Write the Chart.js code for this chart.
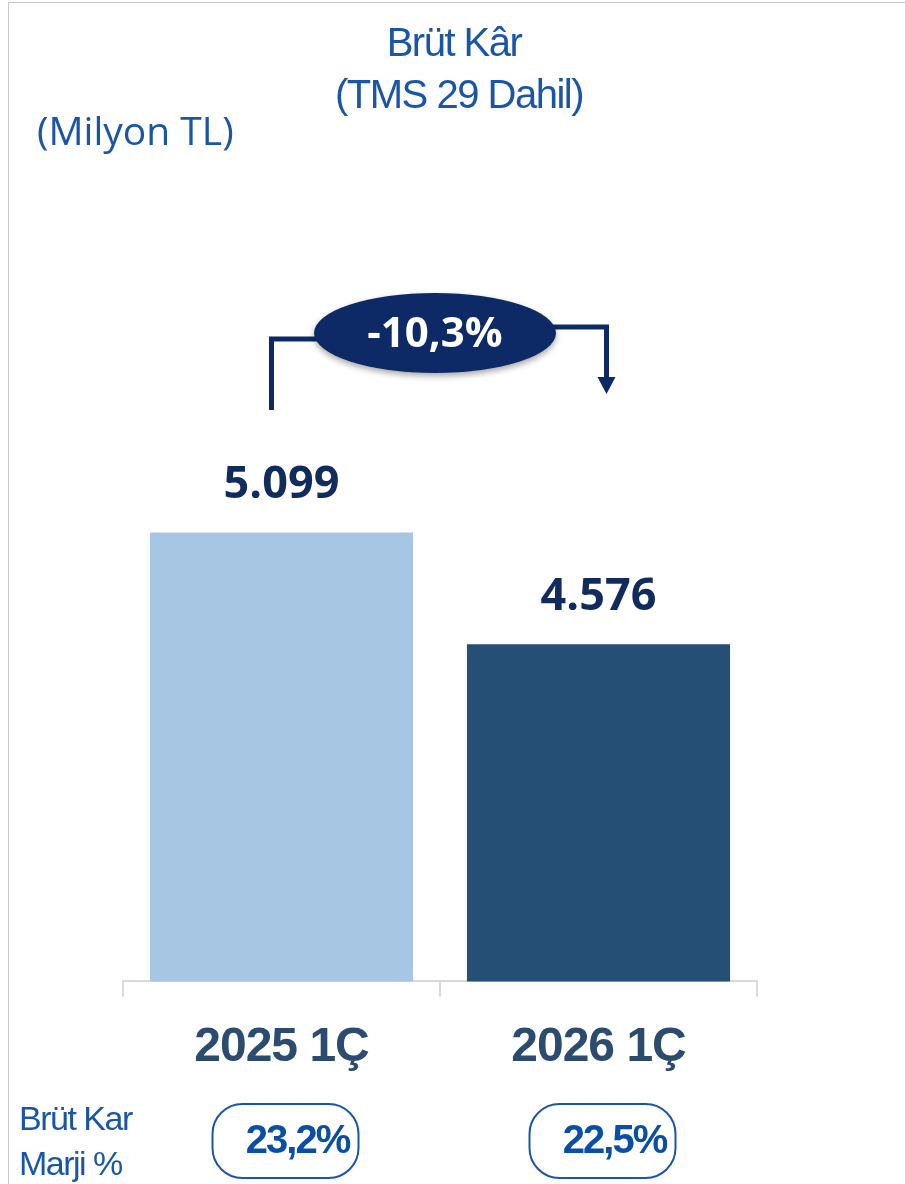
<!DOCTYPE html>
<html>
<head>
<meta charset="utf-8">
<script src="https://cdn.jsdelivr.net/npm/chart.js@4.4.1/dist/chart.umd.min.js"></script>
<style>
  html, body { margin: 0; padding: 0; background: #fff; }
  #wrap { position: relative; width: 905px; height: 1184px; }
  #frame { position: absolute; left: 8px; top: 2px; right: -2px; bottom: -2px; border-left: 1px solid #c8c8c8; border-top: 1px solid #c8c8c8; }
</style>
</head>
<body>
<div id="wrap">
  <div id="frame"></div>
  <canvas id="canvas" width="905" height="1184"></canvas>
</div>
<script>
// data
var categories = ["2025 1Ç", "2026 1Ç"];
var grossProfit = [5099, 4576];
var valueLabels = ["5.099", "4.576"];
var marginLabels = ["23,2%", "22,5%"];
var changeLabel = "-10,3%";
var barColors = ["#a7c6e3", "#254f75"];

var titleLines = ["Brüt Kâr", "(TMS 29 Dahil)"];
var unitLabel = "(Milyon TL)";
var marginTitle = ["Brüt Kar", "Marji %"];

var SANS = "'Liberation Sans', Arial, sans-serif";
var BLUE = "#1a56a8";
var NAVY = "#0d2a66";

// tighter letters for the axis labels (set outside any save so it sticks)
var tightText = {
  id: "tightText",
  beforeDraw: function(chart){ chart.ctx.letterSpacing = "-1px"; },
  afterDraw: function(chart){ chart.ctx.letterSpacing = "0px"; }
};

var extras = {
  id: "extras",
  afterDatasetsDraw: function(chart){
    var ctx = chart.ctx;
    var bars = chart.getDatasetMeta(0).data;
    ctx.save();

    // titles
    ctx.fillStyle = BLUE;
    ctx.textAlign = "center";
    ctx.textBaseline = "middle";
    ctx.letterSpacing = "-1.5px";
    ctx.font = "40px " + SANS;
    ctx.fillText(titleLines[0], 454, 45);
    ctx.fillText(titleLines[1], 459, 97);
    ctx.textAlign = "left";
    ctx.letterSpacing = "0px";
    ctx.font = "39px 'Open Sans'";
    ctx.fillText(unitLabel, 37, 134);

    // value labels above bars
    ctx.textAlign = "center";
    ctx.fillStyle = "#102b5c";
    ctx.font = "bold 45px 'Open Sans'";
    for (var i = 0; i < bars.length; i++) {
      ctx.fillText(valueLabels[i], bars[i].x, bars[i].y - 47);
    }

    // change arrow
    var x1 = bars[0].x - 10, x2 = bars[1].x + 8;
    var cx = (x1 + x2) / 2 - 4, cy = 333;
    ctx.strokeStyle = NAVY;
    ctx.lineWidth = 5;
    ctx.beginPath();
    ctx.moveTo(x1, 410);
    ctx.lineTo(x1, 339);
    ctx.lineTo(cx - 100, 339);
    ctx.stroke();
    ctx.beginPath();
    ctx.moveTo(cx + 100, 327);
    ctx.lineTo(x2, 327);
    ctx.lineTo(x2, 380);
    ctx.stroke();
    ctx.fillStyle = NAVY;
    ctx.beginPath();
    ctx.moveTo(x2 - 9, 377);
    ctx.lineTo(x2 + 9, 377);
    ctx.lineTo(x2, 394);
    ctx.closePath();
    ctx.fill();

    ctx.save();
    ctx.shadowColor = "rgba(0,0,0,0.35)";
    ctx.shadowBlur = 6;
    ctx.shadowOffsetY = 3;
    ctx.beginPath();
    ctx.ellipse(cx, cy, 121, 40, 0, 0, Math.PI * 2);
    ctx.fill();
    ctx.restore();
    ctx.fillStyle = "#ffffff";
    ctx.font = "bold 42px 'Open Sans'";
    ctx.fillText(changeLabel, cx, cy + 2);

    // margin row
    ctx.fillStyle = BLUE;
    ctx.textAlign = "left";
    ctx.letterSpacing = "-1.5px";
    ctx.font = "34px " + SANS;
    ctx.fillText(marginTitle[0], 19, 1121);
    ctx.fillText(marginTitle[1], 19, 1166);

    ctx.strokeStyle = BLUE;
    ctx.lineWidth = 2;
    for (var j = 0; j < bars.length; j++) {
      var px = bars[j].x + 4, py = 1141, w = 146, h = 74;
      ctx.beginPath();
      ctx.roundRect(px - w / 2, py - h / 2, w, h, 30);
      ctx.stroke();
      ctx.fillStyle = "#0a4fa3";
      ctx.textAlign = "center";
      ctx.letterSpacing = "-2px";
      ctx.font = "bold 40px " + SANS;
      ctx.fillText(marginLabels[j], px + 12, py + 1);
    }
    ctx.restore();
  }
};

var ctx = document.getElementById("canvas").getContext("2d");
new Chart(ctx, {
  type: "bar",
  data: {
    labels: categories,
    datasets: [{
      data: grossProfit,
      backgroundColor: barColors,
      borderWidth: 0,
      barPercentage: 0.83,
      categoryPercentage: 1
    }]
  },
  options: {
    responsive: false,
    animation: false,
    layout: { padding: { left: 123, right: 148, top: 126, bottom: 84 } },
    plugins: { legend: { display: false }, tooltip: { enabled: false }, title: { display: false } },
    scales: {
      y: { display: false, min: 3000, max: 7000 },
      x: {
        offset: true,
        grid: { offset: true, drawOnChartArea: false, tickLength: 15, color: "#d9d9d9", lineWidth: 2 },
        border: { display: true, color: "#d9d9d9", width: 2 },
        ticks: {
          color: "#2b4b6f",
          padding: 23,
          font: { family: SANS, size: 48, weight: "bold" }
        }
      }
    }
  },
  plugins: [tightText, extras]
});
</script>
</body>
</html>
